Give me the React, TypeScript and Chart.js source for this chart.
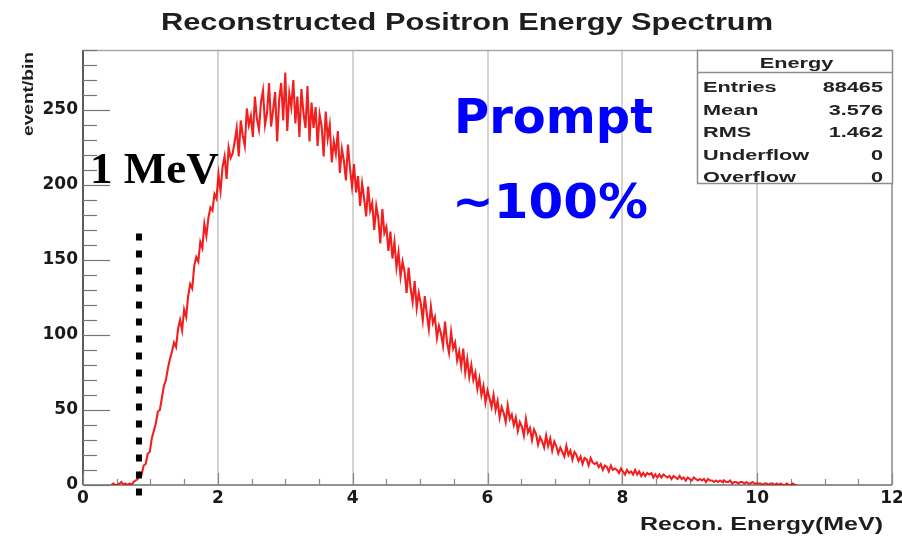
import { useEffect, useRef } from "react";
import { Chart, registerables } from "chart.js";

Chart.register(...registerables);

// ---- text ----
const TITLE = "Reconstructed Positron Energy Spectrum";
const X_TITLE = "Recon. Energy(MeV)";
const Y_TITLE = "event/bin";
const THRESHOLD_LABEL = "1 MeV";
const PROMPT_LINES = ["Prompt", "~100%"];

// ---- axes ----
const X_MIN = 0;
const X_MAX = 12;
const X_STEP = 2;
const X_MINOR = 0.5;
const Y_MIN = 0;
const Y_MAX = 290;
const Y_STEP = 50;
const Y_MINOR = 10;

// ---- histogram: counts per bin, bins start at BIN_START (MeV), width BIN_STEP ----
const BIN_START = 0.42;
const BIN_STEP = 0.03;
const counts = [
  0, 1, 0, 0, 1, 2, 0, 1, 0, 1,
  0, 2, 3, 4, 8, 7, 13, 14, 21, 22,
  31, 36, 41, 49, 50, 58, 66, 70, 78, 84,
  89, 95, 92, 104, 110, 103, 117, 112, 126, 134,
  131, 146, 152, 149, 162, 158, 174, 166, 178, 185,
  183, 194, 191, 207, 196, 212, 219, 204, 225, 218,
  221, 229, 238, 219, 243, 233, 226, 251, 240, 246,
  232, 259, 244, 237, 255, 263, 240, 248, 268, 239,
  250, 262, 229, 257, 268, 243, 275, 236, 261, 252,
  270, 241, 259, 232, 264, 248, 238, 266, 229, 255,
  238, 252, 226, 247, 239, 219, 249, 231, 240, 215,
  229, 221, 236, 208, 224, 216, 203, 227, 211, 199,
  214, 195, 206, 186, 201, 191, 179, 199, 183, 188,
  170, 186, 178, 161, 184, 168, 172, 156, 169, 151,
  162, 145, 155, 139, 149, 142, 128, 145, 131, 122,
  136, 118, 128, 121, 110, 126, 114, 104, 119, 108,
  112, 98, 106, 101, 93, 109, 95, 88, 102, 91,
  95, 83, 89, 79, 91, 75, 84, 72, 80, 70,
  75, 64, 71, 60, 66, 55, 63, 58, 52, 60,
  50, 56, 45, 52, 48, 42, 53, 44, 47, 40,
  45, 36, 42, 39, 33, 44, 35, 38, 30, 37,
  34, 27, 32, 29, 25, 33, 26, 31, 23, 29,
  26, 21, 25, 22, 19, 26, 20, 23, 17, 22,
  20, 16, 19, 14, 18, 17, 13, 18, 15, 14,
  15, 12, 14, 10, 13, 12, 9, 13, 10, 11,
  10, 8, 11, 9, 7, 10, 8, 9, 7, 10,
  7, 9, 6, 8, 6, 8, 7, 8, 5, 7,
  5, 7, 5, 7, 6, 5, 6, 4, 6, 5,
  4, 6, 4, 5, 3, 5, 4, 3, 5, 4,
  3, 4, 3, 4, 2, 4, 3, 3, 2, 3,
  2, 3, 2, 3, 2, 2, 3, 1, 2, 2,
  1, 2, 2, 1, 2, 1, 1, 2, 1, 1,
  1, 1, 0, 1, 1, 0, 1, 1, 0, 1,
  0, 1, 0, 0, 1, 0, 0, 1, 0, 0,
];

// ---- threshold marker (dotted vertical line) ----
const THRESHOLD_ENERGY = 0.83;
const THRESHOLD_SPAN = [-7, 168];

// ---- statistics box ----
const STATS_TITLE = "Energy";
const statsLabels = ["Entries", "Mean", "RMS", "Underflow", "Overflow"];
const statsValues = ["88465", "3.576", "1.462", "0", "0"];

const SANS = "'Liberation Sans', Arial, sans-serif";

function drawStretched(
  ctx: CanvasRenderingContext2D,
  text: string,
  x: number,
  y: number,
  font: string,
  sx: number,
  align: CanvasTextAlign
) {
  ctx.save();
  ctx.font = font;
  ctx.textAlign = align;
  ctx.textBaseline = "alphabetic";
  ctx.translate(x, y);
  ctx.scale(sx, 1);
  ctx.fillText(text, 0, 0);
  ctx.restore();
}

function drawFitted(
  ctx: CanvasRenderingContext2D,
  text: string,
  x: number,
  y: number,
  font: string,
  width: number,
  align: CanvasTextAlign
) {
  ctx.save();
  ctx.font = font;
  const w = ctx.measureText(text).width;
  ctx.restore();
  drawStretched(ctx, text, x, y, font, width / w, align);
}

const rootFrame = {
  id: "rootFrame",
  beforeDatasetsDraw(chart: any) {
    const ctx: CanvasRenderingContext2D = chart.ctx;
    const { left, right, top, bottom } = chart.chartArea;
    const xs = chart.scales.x;
    const ys = chart.scales.y;
    ctx.save();
    // frame
    ctx.strokeStyle = "#a8a8a8";
    ctx.lineWidth = 1.5;
    ctx.beginPath();
    ctx.moveTo(left, top + 0.5);
    ctx.lineTo(right, top + 0.5);
    ctx.stroke();
    ctx.strokeStyle = "#8a8a8a";
    ctx.beginPath();
    ctx.moveTo(right, top);
    ctx.lineTo(right, bottom);
    ctx.stroke();
    // y axis with inward ticks
    ctx.strokeStyle = "#333";
    ctx.lineWidth = 1.6;
    ctx.beginPath();
    ctx.moveTo(left, top);
    ctx.lineTo(left, bottom);
    ctx.stroke();
    ctx.lineWidth = 1.2;
    ctx.strokeStyle = "#777";
    for (let v = Y_MIN; v <= Y_MAX; v += Y_MINOR) {
      const py = Math.round(ys.getPixelForValue(v)) + 0.5;
      const len = v % Y_STEP === 0 ? 27 : 14;
      ctx.beginPath();
      ctx.moveTo(left, py);
      ctx.lineTo(left + len, py);
      ctx.stroke();
    }
    // x axis with inward ticks
    ctx.strokeStyle = "#6e6e6e";
    ctx.lineWidth = 1.6;
    ctx.beginPath();
    ctx.moveTo(left, bottom);
    ctx.lineTo(right, bottom);
    ctx.stroke();
    ctx.lineWidth = 1.2;
    ctx.strokeStyle = "#888";
    for (let v = X_MIN; v <= X_MAX + 1e-9; v += X_MINOR) {
      const px = Math.round(xs.getPixelForValue(v)) + 0.5;
      const len = Math.abs(v % X_STEP) < 1e-9 ? 12 : 6;
      ctx.beginPath();
      ctx.moveTo(px, bottom);
      ctx.lineTo(px, bottom - len);
      ctx.stroke();
    }
    ctx.restore();
  },
  afterDraw(chart: any) {
    const ctx: CanvasRenderingContext2D = chart.ctx;
    const { right, top } = chart.chartArea;
    ctx.save();

    // title and axis titles
    ctx.fillStyle = "#1e1e1e";
    drawFitted(ctx, TITLE, 467, 30, `bold 24px ${SANS}`, 612, "center");
    drawFitted(ctx, X_TITLE, right - 9, 530, `bold 19px ${SANS}`, 243, "right");
    ctx.save();
    ctx.translate(33, top + 2);
    ctx.rotate(-Math.PI / 2);
    drawFitted(ctx, Y_TITLE, 0, 0, `bold 15px ${SANS}`, 84, "right");
    ctx.restore();

    // threshold label
    ctx.fillStyle = "#000";
    ctx.font = "bold 45px 'Liberation Serif', 'Times New Roman', serif";
    ctx.textAlign = "left";
    ctx.textBaseline = "alphabetic";
    ctx.fillText(THRESHOLD_LABEL, 90, 183);

    // prompt annotation
    ctx.fillStyle = "#0000ff";
    ctx.font = "bold 48px 'DejaVu Sans', sans-serif";
    ctx.fillText(PROMPT_LINES[0], 454, 133);
    drawFitted(ctx, PROMPT_LINES[1], 452, 218, "bold 48px 'DejaVu Sans', sans-serif", 196, "left");

    // statistics box
    const bx = 697;
    const bw = 195;
    const by = top;
    const bh = 133;
    ctx.fillStyle = "#ffffff";
    ctx.fillRect(bx, by, bw, bh);
    ctx.strokeStyle = "#8c8c8c";
    ctx.lineWidth = 1.5;
    ctx.strokeRect(bx + 0.5, by + 0.5, bw, bh);
    ctx.beginPath();
    ctx.moveTo(bx, by + 22.5);
    ctx.lineTo(bx + bw, by + 22.5);
    ctx.stroke();
    ctx.fillStyle = "#222";
    const sf = `bold 14px ${SANS}`;
    drawStretched(ctx, STATS_TITLE, bx + bw / 2 + 2, by + 18, sf, 1.55, "center");
    statsLabels.forEach((lab, i) => {
      const yy = by + 42 + i * 22.5;
      drawStretched(ctx, lab, bx + 6, yy, sf, 1.55, "left");
      drawStretched(ctx, statsValues[i], bx + bw - 9, yy, sf, 1.55, "right");
    });
    ctx.restore();
  },
};

export default function App() {
  const canvasRef = useRef<HTMLCanvasElement | null>(null);

  useEffect(() => {
    const canvas = canvasRef.current;
    if (!canvas) return;
    const spectrum = counts.map((c, i) => ({ x: BIN_START + i * BIN_STEP, y: c }));
    const marker = THRESHOLD_SPAN.map((v) => ({ x: THRESHOLD_ENERGY, y: v }));

    const chart = new Chart(canvas, {
      type: "line",
      data: {
        datasets: [
          {
            label: "threshold",
            data: marker,
            borderColor: "#000000",
            borderWidth: 6,
            borderDash: [7, 10],
            borderCapStyle: "butt",
            pointRadius: 0,
            clip: false,
            order: 0,
          },
          {
            label: STATS_TITLE,
            data: spectrum,
            borderColor: "rgba(240, 0, 0, 0.88)",
            borderWidth: 2.1,
            pointRadius: 0,
            tension: 0,
            order: 1,
          },
        ],
      },
      plugins: [rootFrame],
      options: {
        responsive: false,
        animation: false,
        devicePixelRatio: 1,
        layout: { padding: { left: 0, right: 10, top: 50, bottom: 0 } },
        plugins: {
          legend: { display: false },
          tooltip: { enabled: false },
          title: { display: false },
        },
        scales: {
          x: {
            type: "linear",
            min: X_MIN,
            max: X_MAX,
            ticks: {
              stepSize: X_STEP,
              padding: 3,
              color: "#1a1a1a",
              font: { family: "'DejaVu Sans', sans-serif", weight: "bold", size: 17 },
              maxRotation: 0,
              autoSkip: false,
            },
            grid: {
              drawTicks: false,
              lineWidth: 2,
              color: (c: any) =>
                c.tick && (c.tick.value === X_MIN || c.tick.value === X_MAX)
                  ? "rgba(0,0,0,0)"
                  : "#d4d4d4",
            },
            border: { display: false },
            afterFit: (s: any) => {
              s.height = 52;
              s.paddingLeft = 0;
              s.paddingRight = 0;
            },
          },
          y: {
            type: "linear",
            min: Y_MIN,
            max: Y_MAX,
            ticks: {
              stepSize: Y_STEP,
              includeBounds: false,
              padding: 5,
              color: "#1a1a1a",
              font: { family: "'DejaVu Sans', sans-serif", weight: "bold", size: 17 },
            },
            grid: { display: false, drawTicks: false },
            border: { display: false },
            afterFit: (s: any) => {
              s.width = 83;
              s.paddingTop = 0;
              s.paddingBottom = 0;
            },
          },
        },
      },
    } as any);

    return () => chart.destroy();
  }, []);

  return (
    <div style={{ position: "absolute", left: 0, top: 0, width: 902, height: 537, background: "#fff" }}>
      <canvas ref={canvasRef} width={902} height={537} />
    </div>
  );
}
